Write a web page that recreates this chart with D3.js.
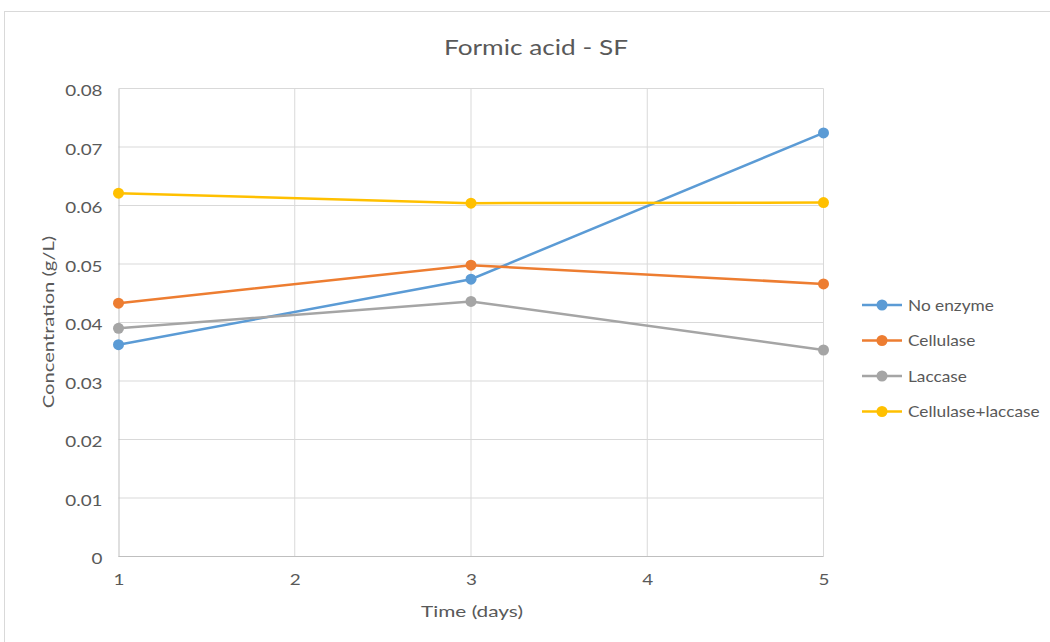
<!DOCTYPE html>
<html><head><meta charset="utf-8">
<script src="https://cdn.jsdelivr.net/npm/d3@7"></script>
<style>body{margin:0;background:#fff;}svg text{font-family:Lato,"Open Sans",sans-serif;fill:#595959;}</style>
</head><body><svg id="c" width="1050" height="642"></svg>
<script>
const days = [1, 3, 5];
const xTicks = [1, 2, 3, 4, 5];
const yTicks = [0, 0.01, 0.02, 0.03, 0.04, 0.05, 0.06, 0.07, 0.08];
const seriesNames = ["No enzyme", "Cellulase", "Laccase", "Cellulase+laccase"];
const noEnzyme = [0.0362, 0.0474, 0.0724];
const cellulase = [0.0433, 0.0498, 0.0466];
const laccase = [0.0390, 0.0436, 0.0353];
const cellLaccase = [0.0621, 0.0604, 0.0605];
const colors = ["#5B9BD5", "#ED7D31", "#A5A5A5", "#FFC000"];
const seriesValues = [noEnzyme, cellulase, laccase, cellLaccase];

const svg = d3.select("#c");
svg.append("rect").attr("x",4.5).attr("y",11.5).attr("width",1060).attr("height",650)
  .attr("fill","#fff").attr("stroke","#d9d9d9");

const x = d3.scaleLinear().domain([1,5]).range([118.5, 823.5]);
const y = d3.scaleLinear().domain([0,0.08]).range([556.5, 88.5]);

function stretch(sel, f){
  sel.each(function(){
    const w = this.getComputedTextLength();
    this.setAttribute("textLength", w*f);
    this.setAttribute("lengthAdjust","spacingAndGlyphs");
  });
}

// gridlines
svg.append("g").selectAll("line").data(yTicks.slice(1)).join("line")
  .attr("x1",x(1)).attr("x2",x(5)).attr("y1",d=>y(d)).attr("y2",d=>y(d))
  .attr("stroke","#d9d9d9").attr("stroke-width",1);
svg.append("g").selectAll("line").data(xTicks.slice(1)).join("line")
  .attr("x1",d=>x(d)).attr("x2",d=>x(d)).attr("y1",y(0)).attr("y2",y(0.08))
  .attr("stroke","#d9d9d9").attr("stroke-width",1);

// axes
const yAxis = d3.axisLeft(y).tickValues(yTicks).tickFormat(d=>d===0?"0":d.toFixed(2)).tickSize(0).tickPadding(16);
const gy = svg.append("g").attr("transform",`translate(${x(1)},0)`).call(yAxis);
gy.select(".domain").attr("stroke","#bfbfbf");
gy.selectAll("text").attr("font-size",14.5).attr("fill","#595959").attr("dy","0.5em");
stretch(gy.selectAll("text"),1.3);
const xAxis = d3.axisBottom(x).tickValues(xTicks).tickFormat(d3.format("d")).tickSize(0).tickPadding(18);
const gx = svg.append("g").attr("transform",`translate(0,${y(0)})`).call(xAxis);
gx.select(".domain").attr("stroke","#bfbfbf").attr("d",`M${x(1)},0H${x(5)}`);
gx.selectAll("text").attr("font-size",14.5).attr("fill","#595959");
stretch(gx.selectAll("text"),1.3);

// lines
const line = d3.line().x((d,i)=>x(days[i])).y(d=>y(d));
seriesValues.forEach((vals,k)=>{
  svg.append("path").datum(vals).attr("d",line).attr("fill","none")
    .attr("stroke",colors[k]).attr("stroke-width",2.5).attr("stroke-linecap","round");
  svg.append("g").selectAll("circle").data(vals).join("circle")
    .attr("cx",(d,i)=>x(days[i])).attr("cy",d=>y(d)).attr("r",5.5).attr("fill",colors[k]);
});

// title & labels
const t = svg.append("text").attr("x",536).attr("y",55).attr("text-anchor","middle").attr("font-size",21.5).text("Formic acid - SF");
stretch(t,1.22);
const yl = svg.append("text").attr("transform","translate(54,322) rotate(-90)").attr("text-anchor","middle").attr("font-size",15.5).text("Concentration (g/L)");
stretch(yl,1.3);
const xl = svg.append("text").attr("x",472).attr("y",617).attr("text-anchor","middle").attr("font-size",16).text("Time (days)");
stretch(xl,1.3);

// legend
const lg = svg.append("g");
seriesNames.forEach((n,i)=>{
  const yy = 305 + i*35.5;
  lg.append("line").attr("x1",862).attr("x2",902).attr("y1",yy).attr("y2",yy).attr("stroke",colors[i]).attr("stroke-width",2.5);
  lg.append("circle").attr("cx",882).attr("cy",yy).attr("r",5.5).attr("fill",colors[i]);
  const tx = lg.append("text").attr("x",908).attr("y",yy+5.5).attr("font-size",15).text(n);
  stretch(tx,1.15);
});
</script></body></html>
